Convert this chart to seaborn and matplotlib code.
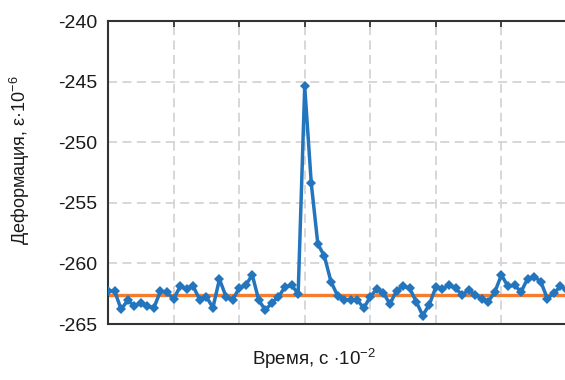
import numpy as np
import pandas as pd
import seaborn as sns
from matplotlib import pyplot as plt

# deformation readings, one per time step
strain = [
    -262.3, -262.25, -263.8, -263.05, -263.5, -263.3, -263.55, -263.65, -262.3, -262.4,
    -262.95, -261.9, -262.1, -261.9, -263.0, -262.75, -263.65, -261.3, -262.75, -263.0,
    -262.05, -261.8, -260.95, -263.05, -263.85, -263.25, -262.75, -261.95, -261.8, -262.5,
    -245.4, -253.4, -258.4, -259.4, -261.5, -262.65, -263.0, -263.0, -263.0, -263.7,
    -262.75, -262.1, -262.45, -263.35, -262.25, -261.9, -262.05, -263.15, -264.3, -263.4,
    -261.95, -262.1, -261.8, -262.05, -262.6, -262.2, -262.6, -262.9, -263.15, -262.35,
    -260.95, -261.9, -261.8, -262.35, -261.25, -261.1, -261.5, -262.9, -262.45, -261.9,
    -262.2,
]
baseline = -262.6
y_ticks = [-265, -260, -255, -250, -245, -240]

df = pd.DataFrame({'t': np.arange(len(strain)), 'eps': strain})

sns.set_style('white')
plt.rcParams['font.family'] = ['Liberation Sans', 'DejaVu Sans']
plt.rcParams['mathtext.fontset'] = 'custom'
plt.rcParams['mathtext.rm'] = 'Liberation Sans'
plt.rcParams['mathtext.it'] = 'Liberation Sans'
plt.rcParams['axes.unicode_minus'] = False

fig = plt.figure(figsize=(5.65, 3.8), dpi=100)
ax = fig.add_axes([108 / 565, 56 / 380, 459 / 565, 303 / 380])

ax.axhline(baseline, color='#f47c2c', lw=2.4, zorder=2)
sns.lineplot(data=df, x='t', y='eps', ax=ax, color='#2375bd', lw=2.5,
             marker='D', markersize=5.5, markeredgewidth=0, zorder=3)

ax.set_xlim(0, 70)
ax.set_ylim(-265, -240)
ax.set_xticks(np.arange(0, 71, 10))
ax.set_yticks(y_ticks)
ax.set_xticklabels([])
ax.grid(True, color='#d4d4d4', linestyle=(0, (5, 3)), lw=1.3)

for side in ['left', 'bottom', 'top']:
    ax.spines[side].set_color('#333333')
    ax.spines[side].set_linewidth(1.5)
ax.spines['right'].set_visible(False)

ax.tick_params(axis='y', direction='out', length=5, width=1.3, color='#333333',
               labelsize=14, pad=3, labelcolor='#1a1a1a')
ax.tick_params(axis='x', which='both', bottom=False, top=True, direction='in',
               length=4, width=1.3, color='#333333')

ax.set_xlabel(r'Время, с $\cdot$10$^{-2}$', fontsize=13.5, color='#1a1a1a')
ax.set_ylabel(r'Деформация, ε·10$^{-6}$', fontsize=13, color='#1a1a1a')
ax.xaxis.set_label_coords(0.449, -0.076)
ax.yaxis.set_label_coords(-0.166, 0.54)

fig.savefig('out.png', dpi=100)
